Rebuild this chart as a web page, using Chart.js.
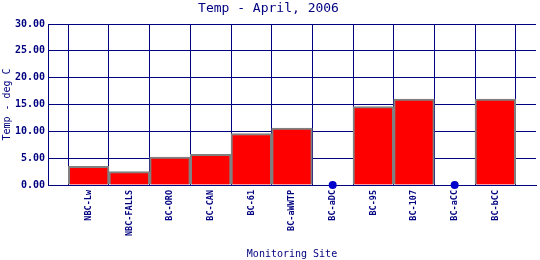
<!DOCTYPE html>
<html>
<head>
<meta charset="utf-8">
<script src="https://cdn.jsdelivr.net/npm/chart.js@4"></script>
<style>
  html, body { margin: 0; padding: 0; background: #fff; }
  #wrap { width: 540px; height: 260px; }
</style>
</head>
<body>
<div id="wrap"><canvas id="chart" width="540" height="260"></canvas></div>
<script>
// Monitoring sites and April 2006 temperatures (deg C); null = no reading
const sites = ['NBC-Lw', 'NBC-FALLS', 'BC-ORO', 'BC-CAN', 'BC-61', 'BC-aWWTP', 'BC-aDC', 'BC-95', 'BC-107', 'BC-aCC', 'BC-bCC'];
const temps = [3.5, 2.5, 5.2, 5.7, 9.6, 10.6, null, 14.6, 16.0, null, 16.0];
const yTicks = [0, 5, 10, 15, 20, 25, 30];

const NAVY = '#000080';
const MONO = '"DejaVu Sans Mono", "Liberation Mono", monospace';

// pad with an empty slot on each side so the site columns sit between the frame edges
const labels = ['', ...sites, ''];
const barData = [null, ...temps, null];
// missing readings are marked with a dot on the zero line
const missingData = [null, ...temps.map(v => v === null ? 0 : null), null];

new Chart(document.getElementById('chart').getContext('2d'), {
  type: 'bar',
  data: {
    labels: labels,
    datasets: [
      {
        label: 'Temp',
        data: barData,
        backgroundColor: '#ff0000',
        borderColor: '#808080',
        borderWidth: 2,
        barPercentage: 1,
        categoryPercentage: 1,
        order: 2
      },
      {
        type: 'line',
        label: 'No data',
        data: missingData,
        showLine: false,
        pointRadius: 4,
        pointBackgroundColor: '#0000cc',
        pointBorderColor: '#0000cc',
        pointBorderWidth: 0,
        clip: false,
        order: 1
      }
    ]
  },
  options: {
    responsive: false,
    animation: false,
    layout: { padding: { left: 0, right: 3, top: 0, bottom: 0 } },
    plugins: {
      legend: { display: false },
      tooltip: { enabled: false },
      title: {
        display: true,
        text: 'Temp - April, 2006',
        color: NAVY,
        font: { family: MONO, size: 13, weight: 'normal', lineHeight: 1.2 },
        padding: { top: 1, bottom: 7.4 }
      }
    },
    scales: {
      x: {
        offset: false,
        grid: { color: NAVY, lineWidth: 1, drawTicks: false },
        border: { color: NAVY, width: 1 },
        ticks: {
          color: NAVY,
          autoSkip: false,
          minRotation: 90,
          maxRotation: 90,
          padding: 5,
          font: { family: MONO, size: 8.5, weight: 'bold' }
        },
        title: {
          display: true,
          text: 'Monitoring Site',
          color: NAVY,
          font: { family: MONO, size: 10, weight: 'normal', lineHeight: 1.2 },
          padding: { top: 0, bottom: 0 }
        },
        afterFit: s => {
          s.height = 75;
          s.paddingLeft = 0;
          s.paddingRight = 0;
        }
      },
      y: {
        min: 0,
        max: 30,
        afterBuildTicks: s => { s.ticks = yTicks.map(v => ({ value: v })); },
        grid: { color: NAVY, lineWidth: 1, drawTicks: false },
        border: { color: NAVY, width: 1 },
        ticks: {
          color: NAVY,
          padding: 3,
          font: { family: MONO, size: 10, weight: 'bold' },
          callback: v => Number(v).toFixed(2)
        },
        title: {
          display: true,
          text: 'Temp - deg C',
          color: NAVY,
          font: { family: MONO, size: 10, weight: 'normal', lineHeight: 1.2 },
          padding: { top: 1, bottom: 0 }
        },
        afterFit: s => {
          s.width = 48;
          s.paddingTop = 0;
          s.paddingBottom = 0;
        }
      }
    }
  }
});
</script>
</body>
</html>
